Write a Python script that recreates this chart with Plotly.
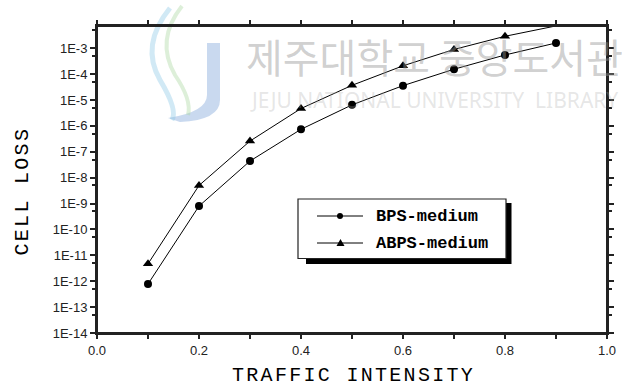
import plotly.graph_objects as go

# ---- data ----
traffic = [0.1, 0.2, 0.3, 0.4, 0.5, 0.6, 0.7, 0.8, 0.9]
bps_medium = [7.8e-13, 8.0e-10, 4.4e-8, 7.4e-7, 6.5e-6, 3.6e-5, 1.55e-4, 5.5e-4, 1.6e-3]
abps_medium = [4.7e-12, 5.0e-9, 2.6e-7, 4.7e-6, 3.7e-5, 2.1e-4, 9.0e-4, 2.9e-3, 7.3e-3]
series_names = ["BPS-medium", "ABPS-medium"]
y_exponents = list(range(-14, -2))
y_tickvals = [10.0 ** e for e in y_exponents]
y_ticktext = ["1E%d" % e for e in y_exponents]
y_minorvals = [5 * 10.0 ** (e - 1) for e in range(-13, -1)]
x_tickvals = [0.0, 0.2, 0.4, 0.6, 0.8, 1.0]
x_ticktext = ["0.0", "0.2", "0.4", "0.6", "0.8", "1.0"]

W, H = 632, 389
L, R, T, B = 97, 607, 26, 333


def px(x):
    return (x - L) / (R - L)


def py(y):
    return (B - y) / (B - T)


AX = "#222222"
fig = go.Figure()
fig.add_trace(go.Scatter(x=traffic, y=bps_medium, name=series_names[0], mode="lines+markers",
                         line=dict(color="black", width=1), showlegend=False,
                         marker=dict(symbol="circle", size=8, color="black"), cliponaxis=False))
fig.add_trace(go.Scatter(x=traffic, y=abps_medium, name=series_names[1], mode="lines+markers",
                         line=dict(color="black", width=1), showlegend=False,
                         marker=dict(symbol="triangle-up", size=9, color="black"), cliponaxis=False))

yrange = [-14, -2.14]
fig.update_layout(
    width=W, height=H,
    margin=dict(l=L, r=W - R, t=T, b=H - B, pad=0),
    paper_bgcolor="white", plot_bgcolor="rgba(0,0,0,0)",
    showlegend=False,
    xaxis=dict(range=[0, 1], showgrid=False, zeroline=False, showline=True, mirror="allticks",
               linecolor=AX, linewidth=2,
               tickmode="array", tickvals=x_tickvals, ticktext=x_ticktext,
               ticks="outside", ticklen=4, tickwidth=1.5, tickcolor=AX,
               minor=dict(tickmode="array", tickvals=[0.1, 0.3, 0.5, 0.7, 0.9], ticks="outside",
                          ticklen=4, tickwidth=1.5, tickcolor=AX),
               tickfont=dict(family="Liberation Sans", size=13, color="#222")),
    yaxis=dict(type="log", range=yrange, showgrid=False, zeroline=False, showline=True, mirror="allticks",
               linecolor=AX, linewidth=2, tickmode="array", tickvals=y_tickvals, ticktext=y_ticktext,
               ticks="outside", ticklen=5, tickwidth=1.5, tickcolor=AX,
               minor=dict(tickmode="array", tickvals=y_minorvals, ticks="outside", ticklen=3,
                          tickwidth=1.5, tickcolor=AX),
               tickfont=dict(family="Liberation Sans", size=13, color="#222")),
)

# frame of the plotting area
fig.add_shape(type="rect", xref="paper", yref="paper", x0=0, x1=1, y0=0, y1=1,
              line=dict(color=AX, width=2), fillcolor="rgba(0,0,0,0)", layer="above")

# ---- watermark (logo + text) ----
fig.add_shape(type="path", xref="paper", yref="paper", layer="below",
              path="M %f,%f L %f,%f L %f,%f Q %f,%f %f,%f L %f,%f Q %f,%f %f,%f Z" % (
                  px(207), py(43), px(220), py(43), px(220), py(100), px(220), py(120), px(180), py(122),
                  px(168), py(118), px(207), py(112), px(207), py(95)),
              fillcolor="rgba(120,160,215,0.4)", line=dict(width=0))
fig.add_shape(type="path", xref="paper", yref="paper", layer="below",
              path="M %f,%f Q %f,%f %f,%f Q %f,%f %f,%f" % (
                  px(170), py(8), px(140), py(45), px(160), py(80), px(178), py(110), px(172), py(120)),
              line=dict(color="rgba(140,200,230,0.4)", width=5))
fig.add_shape(type="path", xref="paper", yref="paper", layer="below",
              path="M %f,%f Q %f,%f %f,%f Q %f,%f %f,%f" % (
                  px(182), py(6), px(155), py(40), px(175), py(75), px(192), py(100), px(188), py(115)),
              line=dict(color="rgba(170,215,160,0.4)", width=4))
fig.add_annotation(text="제주대학교 중앙도서관", xref="paper", yref="paper", x=px(434), y=py(56),
                   xanchor="center", yanchor="middle", showarrow=False,
                   font=dict(family="Noto Sans CJK KR", size=40, color="rgba(150,150,150,0.45)"))
fig.add_annotation(text="JEJU NATIONAL UNIVERSITY  LIBRARY", xref="paper", yref="paper", x=px(434),
                   y=py(100), xanchor="center", yanchor="middle", showarrow=False,
                   font=dict(family="Noto Sans", size=21, color="rgba(170,170,170,0.3)"))

# ---- legend (box with drop shadow) ----
fig.add_shape(type="rect", xref="paper", yref="paper", x0=px(306), x1=px(511.5), y0=py(203), y1=py(264),
              fillcolor="black", line=dict(width=0), layer="above")
fig.add_shape(type="rect", xref="paper", yref="paper", x0=px(298), x1=px(506), y0=py(199), y1=py(258.5),
              fillcolor="white", line=dict(color="#222", width=1.2), layer="above")
legend_rows = [(216, "circle"), (243, "triangle")]
for (ry, sym), name in zip(legend_rows, series_names):
    fig.add_shape(type="line", xref="paper", yref="paper", x0=px(317), x1=px(363), y0=py(ry), y1=py(ry),
                  line=dict(color="black", width=1), layer="above")
    if sym == "circle":
        fig.add_shape(type="circle", xref="paper", yref="paper", x0=px(337), x1=px(343),
                      y0=py(ry - 3), y1=py(ry + 3), fillcolor="black", line=dict(width=0), layer="above")
    else:
        fig.add_shape(type="path", xref="paper", yref="paper", layer="above",
                      path="M %f,%f L %f,%f L %f,%f Z" % (px(336.5), py(ry + 3), px(344.5), py(ry + 3),
                                                          px(340.5), py(ry - 4)),
                      fillcolor="black", line=dict(width=0))
    fig.add_annotation(text=name, xref="paper", yref="paper", x=px(373.5), y=py(ry + 0.5),
                       xanchor="left", yanchor="middle", showarrow=False,
                       font=dict(family="Liberation Mono", size=17, color="black", weight="bold"))

# ---- axis titles ----
fig.add_annotation(text='<span style="letter-spacing:2.3px">TRAFFIC INTENSITY</span>',
                   xref="paper", yref="paper", x=px(353), y=py(375),
                   xanchor="center", yanchor="middle", showarrow=False,
                   font=dict(family="Liberation Mono", size=20, color="black"))
fig.add_annotation(text='<span style="letter-spacing:2.3px">CELL LOSS</span>',
                   xref="paper", yref="paper", x=px(21.5), y=py(191),
                   xanchor="center", yanchor="middle", showarrow=False, textangle=-90,
                   font=dict(family="Liberation Mono", size=20, color="black"))

fig.write_html("out.html")
